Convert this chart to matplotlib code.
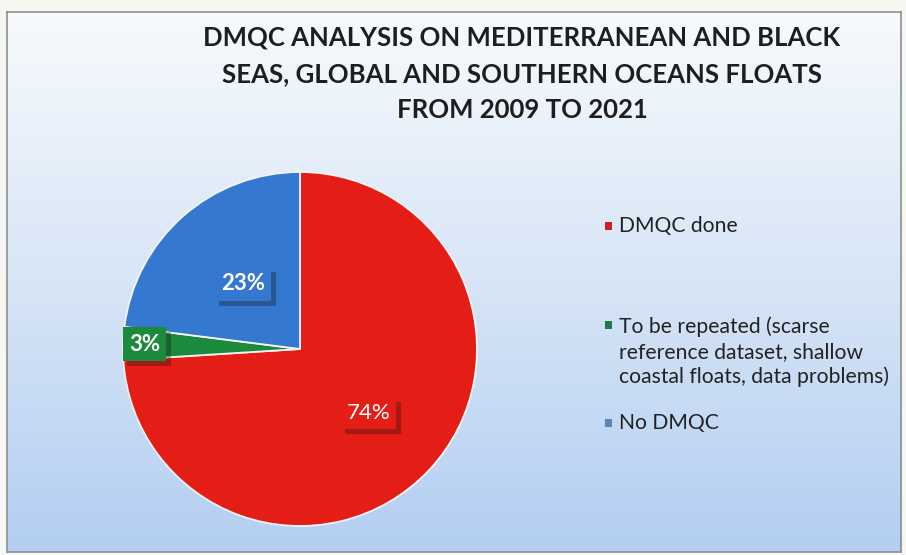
import numpy as np
import matplotlib
matplotlib.use("Agg")
import matplotlib.pyplot as plt
import matplotlib.patheffects as pe
from matplotlib.patches import Rectangle
from matplotlib.colors import LinearSegmentedColormap

# Data
categories = ["DMQC done",
              "To be repeated (scarse\nreference dataset, shallow\ncoastal floats, data problems)",
              "No DMQC"]
shares = [74, 3, 23]
slice_colors = ["#e41e17", "#1c8a3c", "#3479cf"]
legend_colors = ["#cf1f24", "#1f7a4e", "#5a86b3"]
title = ("DMQC ANALYSIS ON MEDITERRANEAN AND BLACK\n"
         "SEAS, GLOBAL AND SOUTHERN OCEANS FLOATS\n"
         "FROM 2009 TO 2021")

W, H = 906, 555
fig = plt.figure(figsize=(W / 100, H / 100), dpi=100)
fig.patch.set_facecolor("#f6f6f2")

# Chart area background: vertical gradient white -> light blue
x0, y0, x1, y1 = 7, 12, 901, 552
bg = fig.add_axes([x0 / W, 1 - y1 / H, (x1 - x0) / W, (y1 - y0) / H])
grad = np.linspace(0, 1, 256).reshape(-1, 1)
cmap = LinearSegmentedColormap.from_list("bg", ["#f7fafd", "#d7e5f6", "#b3cef2"])
bg.imshow(grad, aspect="auto", cmap=cmap, extent=[0, 1, 0, 1], origin="upper")
bg.set_xlim(0, 1)
bg.set_ylim(0, 1)
bg.set_xticks([])
bg.set_yticks([])
for s in bg.spines.values():
    s.set_edgecolor("#8f8f8f")
    s.set_linewidth(1.2)

# Pie
cx, cy, r = 300, 349, 177
ax = fig.add_axes([(cx - r) / W, 1 - (cy + r) / H, 2 * r / W, 2 * r / H])
ax.set_facecolor("none")
wedges, _ = ax.pie(shares, colors=slice_colors, startangle=90, counterclock=False,
                   radius=1.0, wedgeprops=dict(edgecolor="#f3f3f3", linewidth=1.3))
ax.set_xlim(-1, 1)
ax.set_ylim(-1, 1)
ax.set_aspect("equal")
ax.axis("off")

label_dist = [0.53, 0.88, 0.49]
label_weight = ["normal", "bold", "bold"]
for w, val, d, col, wt in zip(wedges, shares, label_dist, slice_colors, label_weight):
    mid = np.deg2rad((w.theta1 + w.theta2) / 2)
    t = ax.text(d * np.cos(mid), d * np.sin(mid), f"{val}%", ha="center", va="center",
                color="white", fontsize=16, fontweight=wt, family="Lato",
                bbox=dict(boxstyle="square,pad=0.28", facecolor=col, edgecolor="none"))
    t.get_bbox_patch().set_path_effects(
        [pe.SimplePatchShadow(offset=(3.5, -3.5), shadow_rgbFace="#1a1010", alpha=0.32),
         pe.Normal()])

# Title
fig.text(522 / W, 1 - 74 / H, title, ha="center", va="center", fontsize=18.5,
         fontweight="bold", family="Lato", color="#1e1e1e", linespacing=1.62)

# Legend
legend_y = [226, 352, 423]
line_h = 27.5
for lab, col, y in zip(categories, legend_colors, legend_y):
    n = lab.count("\n") + 1
    first_y = y - (n - 1) * line_h / 2
    fig.patches.append(Rectangle((605 / W, 1 - (first_y + 4) / H), 7 / W, 8 / H,
                                 transform=fig.transFigure, facecolor=col,
                                 edgecolor="none"))
    fig.text(619 / W, 1 - y / H, lab, ha="left", va="center", fontsize=15.2,
             family="Lato", color="#222222", linespacing=1.3)

fig.savefig("out.png", dpi=100, facecolor=fig.get_facecolor())
